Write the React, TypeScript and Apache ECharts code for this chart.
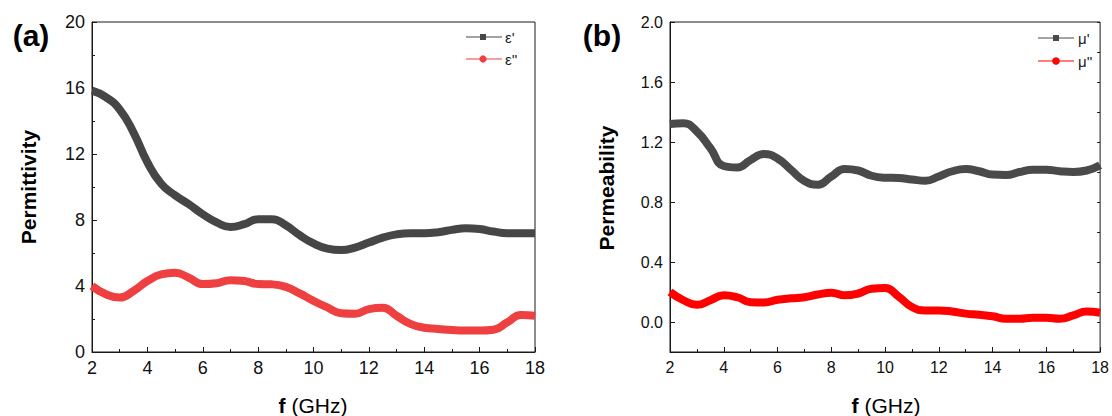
import React, { useEffect, useRef } from "react";
import * as echarts from "echarts";

const freq = [2, 2.5, 3, 3.5, 4, 4.5, 5, 5.5, 6, 6.5, 7, 7.5, 8, 8.5, 9, 9.5, 10, 10.5, 11, 11.5, 12, 12.5, 13, 13.5, 14, 14.5, 15, 15.5, 16, 16.5, 17, 17.5, 18];

const epsReal = [15.84, 15.45, 14.7, 13.3, 11.5, 10.2, 9.5, 8.95, 8.35, 7.85, 7.58, 7.75, 8.05, 8.05, 7.68, 7.08, 6.58, 6.27, 6.18, 6.33, 6.63, 6.93, 7.13, 7.2, 7.2, 7.26, 7.4, 7.5, 7.45, 7.3, 7.2, 7.2, 7.2];
const epsImag = [4.0, 3.5, 3.3, 3.7, 4.3, 4.7, 4.8, 4.5, 4.12, 4.17, 4.35, 4.3, 4.12, 4.1, 3.95, 3.55, 3.1, 2.7, 2.35, 2.32, 2.6, 2.68, 2.2, 1.7, 1.47, 1.4, 1.33, 1.3, 1.3, 1.35, 1.8, 2.25, 2.2];

const muReal = [1.32, 1.325, 1.27, 1.16, 1.04, 1.03, 1.08, 1.12, 1.09, 1.015, 0.94, 0.915, 0.97, 1.02, 1.01, 0.975, 0.962, 0.96, 0.95, 0.942, 0.97, 1.005, 1.02, 1.005, 0.983, 0.98, 1.0, 1.015, 1.015, 1.005, 1.0, 1.01, 1.045];
const muImag = [0.2, 0.145, 0.115, 0.145, 0.178, 0.165, 0.132, 0.13, 0.148, 0.158, 0.165, 0.183, 0.195, 0.178, 0.19, 0.222, 0.226, 0.17, 0.1, 0.077, 0.077, 0.07, 0.056, 0.048, 0.038, 0.022, 0.022, 0.029, 0.029, 0.022, 0.044, 0.07, 0.062];

const muTicks = [0, 0.4, 0.8, 1.2, 1.6, 2.0];

const FONT = "Liberation Sans, Arial, sans-serif";

const pair = (ys: number[]) => freq.map((f, i) => [f, ys[i]]);

export default function App() {
  const ref = useRef<HTMLDivElement>(null);
  useEffect(() => {
    if (!ref.current) return;
    const chart = echarts.init(ref.current, null, { renderer: "svg" });
    const axisLine = { show: true, onZero: false, lineStyle: { color: "#1a1a1a", width: 1 } };
    const xAxisBase = (gridIndex: number, fs: number) => ({
      type: "value",
      gridIndex,
      min: 2,
      max: 18,
      interval: 2,
      axisLine,
      axisTick: { show: true, inside: true, length: 5, lineStyle: { color: "#1a1a1a" } },
      minorTick: { show: true, splitNumber: 2, length: 3, lineStyle: { color: "#1a1a1a" } },
      splitLine: { show: false },
      axisLabel: { color: "#111", fontSize: fs, fontFamily: FONT, margin: 7 },
    });
    const axisTitle = (x: number) => ({
      type: "text", x, y: 405,
      style: {
        text: "{b|f}{r| (GHz)}", align: "center", verticalAlign: "middle",
        rich: { b: { fontWeight: "bold", fontSize: 21, fontFamily: FONT, fill: "#000" }, r: { fontSize: 21, fontFamily: FONT, fill: "#000" } },
      },
    });
    chart.setOption({
      animation: false,
      grid: [
        { left: 92, top: 22, width: 443, height: 330, show: true, borderColor: "#1a1a1a", borderWidth: 1, backgroundColor: "transparent" },
        { left: 670, top: 22, width: 432, height: 330, show: true, borderColor: "#1a1a1a", borderWidth: 1, backgroundColor: "transparent" },
      ],
      xAxis: [xAxisBase(0, 18), xAxisBase(1, 16)],
      yAxis: [
        {
          type: "value",
          gridIndex: 0,
          min: 0,
          max: 20,
          interval: 4,
          axisLine,
          axisTick: { show: true, inside: true, length: 5, lineStyle: { color: "#1a1a1a" } },
          minorTick: { show: true, splitNumber: 2, length: 3, lineStyle: { color: "#1a1a1a" } },
          splitLine: { show: false },
          axisLabel: { color: "#111", fontSize: 18, fontFamily: FONT, margin: 7 },
        },
        {
          type: "value",
          gridIndex: 1,
          min: -0.2,
          max: 2.0,
          axisLine,
          axisTick: { show: true, inside: true, length: 5, customValues: muTicks, lineStyle: { color: "#1a1a1a" } },
          splitLine: { show: false },
          axisLabel: {
            color: "#111",
            fontSize: 16,
            fontFamily: FONT,
            margin: 7,
            customValues: muTicks,
            formatter: (v: number) => v.toFixed(1),
          },
        },
        {
          type: "value",
          gridIndex: 1,
          min: -0.2,
          max: 2.0,
          interval: 0.2,
          axisLine: { show: false },
          axisTick: { show: true, inside: true, length: 3, lineStyle: { color: "#1a1a1a" } },
          splitLine: { show: false },
          axisLabel: { show: false },
        },
      ],
      series: [
        { type: "line", name: "ε'", xAxisIndex: 0, yAxisIndex: 0, data: pair(epsReal), smooth: 0.5, showSymbol: false, symbol: "none", lineStyle: { color: "#464646", width: 8 } },
        { type: "line", name: "ε''", xAxisIndex: 0, yAxisIndex: 0, data: pair(epsImag), smooth: 0.5, showSymbol: false, symbol: "none", lineStyle: { color: "#ee4040", width: 8 } },
        { type: "line", name: "μ'", xAxisIndex: 1, yAxisIndex: 1, data: pair(muReal), smooth: 0.5, showSymbol: false, symbol: "none", lineStyle: { color: "#4a4a4a", width: 8 } },
        { type: "line", name: "μ''", xAxisIndex: 1, yAxisIndex: 1, data: pair(muImag), smooth: 0.5, showSymbol: false, symbol: "none", lineStyle: { color: "#ff0000", width: 8 } },
      ],
      graphic: [
        { type: "text", x: 31, y: 35, style: { text: "(a)", font: `bold 30px ${FONT}`, fill: "#000", align: "center", verticalAlign: "middle" } },
        { type: "text", x: 602, y: 35, style: { text: "(b)", font: `bold 30px ${FONT}`, fill: "#000", align: "center", verticalAlign: "middle" } },
        { type: "text", x: 28, y: 187, rotation: Math.PI / 2, style: { text: "Permittivity", font: `bold 21px ${FONT}`, fill: "#000", align: "center", verticalAlign: "middle" } },
        { type: "text", x: 606, y: 188, rotation: Math.PI / 2, style: { text: "Permeability", font: `bold 21px ${FONT}`, fill: "#000", align: "center", verticalAlign: "middle" } },
        axisTitle(313),
        axisTitle(886),
        // legend (a)
        { type: "line", shape: { x1: 466, y1: 37, x2: 502, y2: 37 }, style: { stroke: "#464646", lineWidth: 1.2 } },
        { type: "rect", shape: { x: 480, y: 34, width: 6, height: 6 }, style: { fill: "#464646" } },
        { type: "text", x: 505, y: 37, style: { text: "ε'", font: `15px ${FONT}`, fill: "#222", verticalAlign: "middle" } },
        { type: "line", shape: { x1: 466, y1: 59, x2: 502, y2: 59 }, style: { stroke: "#ee4040", lineWidth: 1.2 } },
        { type: "circle", shape: { cx: 483, cy: 59, r: 3.6 }, style: { fill: "#ee4040" } },
        { type: "text", x: 505, y: 59, style: { text: "ε''", font: `15px ${FONT}`, fill: "#222", verticalAlign: "middle" } },
        // legend (b)
        { type: "line", shape: { x1: 1038, y1: 38, x2: 1074, y2: 38 }, style: { stroke: "#4a4a4a", lineWidth: 1.2 } },
        { type: "rect", shape: { x: 1053, y: 35, width: 6, height: 6 }, style: { fill: "#4a4a4a" } },
        { type: "text", x: 1078, y: 38, style: { text: "μ'", font: `15px ${FONT}`, fill: "#222", verticalAlign: "middle" } },
        { type: "line", shape: { x1: 1038, y1: 61, x2: 1074, y2: 61 }, style: { stroke: "#ff0000", lineWidth: 1.2 } },
        { type: "circle", shape: { cx: 1056, cy: 61, r: 3.8 }, style: { fill: "#ff0000" } },
        { type: "text", x: 1078, y: 61, style: { text: "μ''", font: `15px ${FONT}`, fill: "#222", verticalAlign: "middle" } },
      ],
    });
    return () => chart.dispose();
  }, []);
  return <div ref={ref} style={{ position: "fixed", left: 0, top: 0, width: 1112, height: 416, background: "#fff" }} />;
}
